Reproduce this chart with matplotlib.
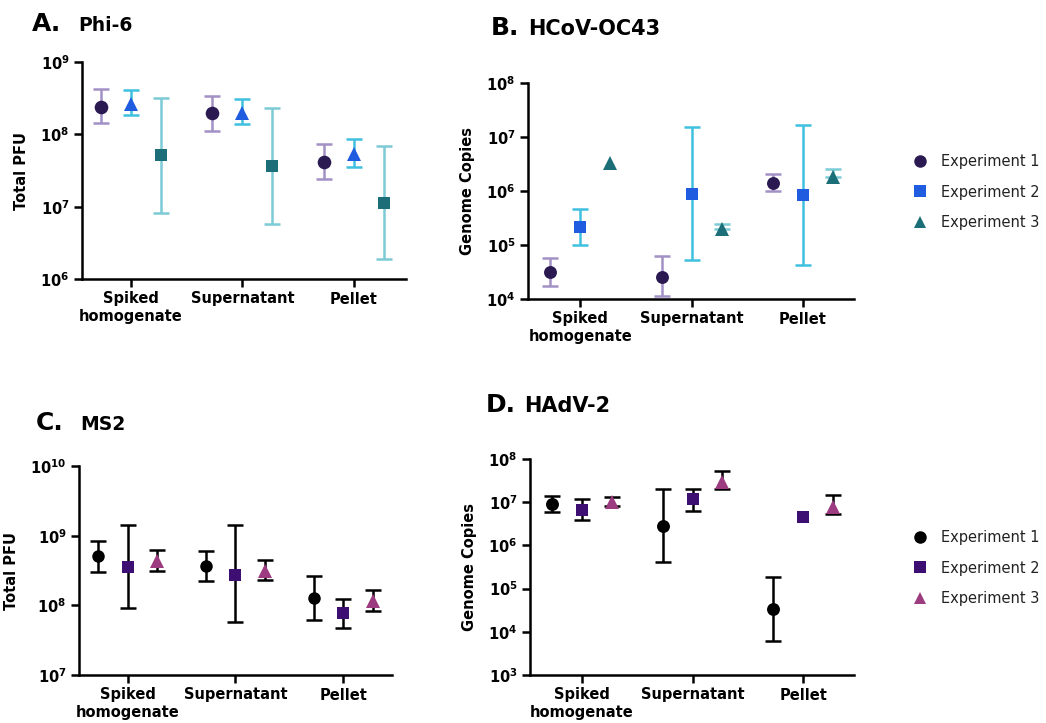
import numpy as np
import matplotlib.pyplot as plt
from matplotlib.lines import Line2D

categories = ['Spiked\nhomogenate', 'Supernatant', 'Pellet']

# Panel A: Phi-6 (Total PFU) -- mean, lower, upper
a_exp1 = [2.4e8, 1.95e8, 4.15e7]
a_exp1_lo = [1.42e8, 1.12e8, 2.44e7]
a_exp1_hi = [4.2e8, 3.35e8, 7.3e7]
a_exp2 = [2.6e8, 1.97e8, 5.4e7]
a_exp2_lo = [1.83e8, 1.37e8, 3.5e7]
a_exp2_hi = [4.1e8, 3.05e8, 8.7e7]
a_exp3 = [5.1e7, 3.6e7, 1.12e7]
a_exp3_lo = [8.2e6, 5.75e6, 1.91e6]
a_exp3_hi = [3.2e8, 2.34e8, 6.97e7]

# Panel B: HCoV-OC43 (Genome copies)
b_exp1 = [3.2e4, 2.6e4, 1.43e6]
b_exp1_lo = [1.77e4, 1.12e4, 1.01e6]
b_exp1_hi = [5.8e4, 6.25e4, 2.04e6]
b_exp2 = [2.15e5, 8.9e5, 8.4e5]
b_exp2_lo = [1.01e5, 5.3e4, 4.3e4]
b_exp2_hi = [4.6e5, 1.55e7, 1.64e7]
b_exp3 = [3.35e6, 2.0e5, 1.8e6]
b_exp3_lo = [3.35e6, 2.0e5, 1.8e6]
b_exp3_hi = [3.35e6, 2.5e5, 2.6e6]

# Panel C: MS2 (Total PFU)
c_exp1 = [5.1e8, 3.7e8, 1.27e8]
c_exp1_lo = [3.05e8, 2.25e8, 6.1e7]
c_exp1_hi = [8.5e8, 6.0e8, 2.6e8]
c_exp2 = [3.5e8, 2.74e8, 7.7e7]
c_exp2_lo = [9.1e7, 5.7e7, 4.8e7]
c_exp2_hi = [1.4e9, 1.4e9, 1.24e8]
c_exp3 = [4.3e8, 3.16e8, 1.17e8]
c_exp3_lo = [3.1e8, 2.3e8, 8.3e7]
c_exp3_hi = [6.2e8, 4.5e8, 1.67e8]

# Panel D: HAdV-2 (Genome copies)
d_exp1 = [9.2e6, 2.8e6, 3.3e4]
d_exp1_lo = [6.0e6, 4.1e5, 6.2e3]
d_exp1_hi = [1.41e7, 2.05e7, 1.9e5]
d_exp2 = [6.7e6, 1.18e7, 4.6e6]
d_exp2_lo = [3.8e6, 6.3e6, 4.6e6]
d_exp2_hi = [1.18e7, 2.0e7, 4.6e6]
d_exp3 = [1.0e7, 3.0e7, 7.9e6]
d_exp3_lo = [8.0e6, 2.0e7, 5.4e6]
d_exp3_hi = [1.29e7, 5.25e7, 1.44e7]

legend_labels = ['Experiment 1', 'Experiment 2', 'Experiment 3']

fig = plt.figure(figsize=(10.46, 7.23), dpi=100)
W, H = 1046, 723


def px_axes(left, top, right, bottom):
    return fig.add_axes([left / W, 1 - bottom / H, (right - left) / W, (bottom - top) / H])


def series(ax, xoff, y, lo, hi, marker, mcolor, ecolor, ms):
    x = np.arange(len(y)) + xoff
    y = np.array(y)
    lo = np.array(lo)
    hi = np.array(hi)
    # skip the bars that have no spread at all (single values)
    keep = hi > lo
    if keep.any():
        yerr = [(y - lo)[keep], (hi - y)[keep]]
        ax.errorbar(x[keep], y[keep], yerr=yerr, fmt='none', ecolor=ecolor,
                    elinewidth=1.8, capsize=5.5, capthick=1.8, zorder=2)
    ax.plot(x, y, linestyle='none', marker=marker, color=mcolor, markersize=ms,
            markeredgewidth=0, zorder=3)


def style(ax, lo_exp, hi_exp, ylabel, xlim):
    ax.set_yscale('log')
    ax.set_ylim(10.0 ** lo_exp, 10.0 ** hi_exp)
    ax.set_xlim(*xlim)
    ticks = [10.0 ** e for e in range(lo_exp, hi_exp + 1)]
    ax.set_yticks(ticks)
    ax.set_yticklabels([r'$\mathbf{10^{%d}}$' % e for e in range(lo_exp, hi_exp + 1)],
                       fontsize=10.5)
    ax.yaxis.set_minor_locator(plt.NullLocator())
    ax.set_xticks(range(len(categories)))
    ax.set_xticklabels(categories, fontsize=10.5, fontweight='bold', linespacing=1.25)
    for s in ['top', 'right']:
        ax.spines[s].set_visible(False)
    for s in ['left', 'bottom']:
        ax.spines[s].set_linewidth(1.8)
    ax.tick_params(axis='both', width=1.8, length=6, pad=3)
    ax.set_ylabel(ylabel, fontsize=10.5, fontweight='bold', labelpad=8)


def title(x, xname, y, letter, name, size):
    fig.text(x / W, 1 - y / H, letter, fontsize=18, fontweight='bold', va='baseline')
    fig.text(xname / W, 1 - y / H, name, fontsize=size, fontweight='bold', va='baseline')


off = 0.27

# colours
dark_purple = '#2b1a52'
lilac = '#a391c6'
blue = '#1f5ce0'
cyan = '#3fc0df'
teal = '#1c6f78'
light_cyan = '#7ccbd6'
black = '#000000'
violet = '#3e0f72'
magenta = '#9c3b7f'

# A
axA = px_axes(82, 62, 406, 279)
series(axA, -off, a_exp1, a_exp1_lo, a_exp1_hi, 'o', dark_purple, lilac, 9.8)
series(axA, 0, a_exp2, a_exp2_lo, a_exp2_hi, '^', blue, cyan, 10)
series(axA, off, a_exp3, a_exp3_lo, a_exp3_hi, 's', teal, light_cyan, 9)
style(axA, 6, 9, 'Total PFU', (-0.44, 2.47))
title(32, 78, 31, 'A.', 'Phi-6', 13.5)

# B
axB = px_axes(528, 83, 854, 299)
series(axB, -off, b_exp1, b_exp1_lo, b_exp1_hi, 'o', dark_purple, lilac, 9.3)
series(axB, 0, b_exp2, b_exp2_lo, b_exp2_hi, 's', blue, cyan, 9)
series(axB, off, b_exp3, b_exp3_lo, b_exp3_hi, '^', teal, light_cyan, 9.5)
style(axB, 4, 8, 'Genome Copies', (-0.47, 2.46))
title(491, 528, 35, 'B.', 'HCoV-OC43', 15)

# C
axC = px_axes(79, 466, 392, 675)
series(axC, -off, c_exp1, c_exp1_lo, c_exp1_hi, 'o', black, black, 9)
series(axC, 0, c_exp2, c_exp2_lo, c_exp2_hi, 's', violet, black, 9)
series(axC, off, c_exp3, c_exp3_lo, c_exp3_hi, '^', magenta, black, 9.5)
style(axC, 7, 10, 'Total PFU', (-0.45, 2.45))
title(36, 80, 430, 'C.', 'MS2', 13.5)

# D
axD = px_axes(530, 459, 854, 675)
series(axD, -off, d_exp1, d_exp1_lo, d_exp1_hi, 'o', black, black, 9.3)
series(axD, 0, d_exp2, d_exp2_lo, d_exp2_hi, 's', violet, black, 9)
series(axD, off, d_exp3, d_exp3_lo, d_exp3_hi, '^', magenta, black, 9.5)
style(axD, 3, 8, 'Genome Copies', (-0.47, 2.46))
title(486, 524, 412, 'D.', 'HAdV-2', 15)


def legend(colors, cy):
    markers = ['o', 's', '^']
    handles = [Line2D([], [], linestyle='none', marker=m, color=c, markersize=9,
                      markeredgewidth=0) for m, c in zip(markers, colors)]
    fig.legend(handles, legend_labels, loc='center left',
               bbox_to_anchor=(905 / W, 1 - cy / H), frameon=False, fontsize=10.5,
               handlelength=1.0, handletextpad=1.0, labelspacing=1.05, borderpad=0,
               labelcolor='#222222')


legend([dark_purple, blue, teal], 192)
legend([black, violet, magenta], 568)

fig.savefig('out.png', dpi=100)
